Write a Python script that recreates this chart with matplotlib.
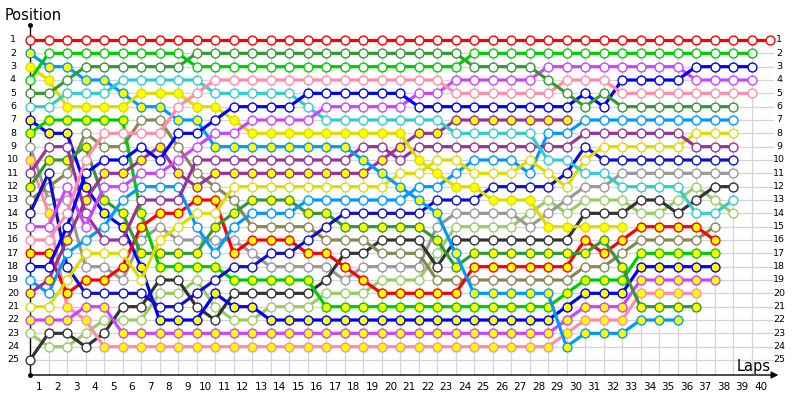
import matplotlib
matplotlib.use("Agg")
import matplotlib.pyplot as plt

# position per lap, list index = lap (0 = grid)
red_w    = [1] * 41
green_w  = [4] + [2] * 8 + [3] * 15 + [2] * 16
dgreen_w = [5, 5, 4] + [3] * 6 + [2] * 15 + [3] * 4 + [4, 5, 6, 5] + [6] * 7
pink_w   = [16, 16, 14, 10, 8, 8, 8, 8, 6, 5] + [4] * 13 + [5] * 6 + [4] * 3 + [5] * 8
blue_w   = [18, 18, 15, 11, 10, 10, 9, 10, 8, 8, 7] + [6] * 4 + [5] * 6 + [6] * 9 + [5, 6] + [4] * 4 + [3] * 4
violet_w = [15, 15, 12, 15, 12, 12, 11, 11, 10, 9, 8, 8] + [7] * 4 + [6] * 5 + [5] * 2 + [4] * 5 + [3] * 8 + [4] * 4
cyan_w   = [6, 6, 5, 5, 5, 4, 4, 4, 4, 4] + [5] * 5 + [6] + [7] * 7 + [8] * 5 + [10, 10, 11, 11] + [12] * 4 + [14, 14, 13]
yel_y    = [3, 4, 6, 6, 6, 6, 5, 5, 5, 6, 6, 7] + [8] * 9 + [10, 11, 12, 12, 13, 13, 13] + [15] * 5
lblue_y  = [2, 3, 3, 4, 4, 5, 6, 6, 7, 7] + [9] * 8 + [10, 11, 12, 13, 14, 17] + [20] * 5 + [24] + [23] * 3 + [22] * 3
green_y  = [8, 7, 7, 7, 7, 7, 14, 18, 18, 18, 18] + [19] * 5 + [21] * 13 + [20] + [19] * 3 + [17] * 5
red_y    = [17, 17, 20, 19, 19, 18, 15, 14, 14, 13, 13, 17, 16, 16, 16, 17, 17, 18, 19] + [20] * 5 + [18] * 6 + [16, 17, 16] + [15] * 4 + [16]
blue_y   = [7, 8, 8, 12, 14, 15, 18, 22, 22, 22, 20, 21, 21] + [22] * 16 + [21] + [20] * 3 + [18] * 5
pink_y   = [10, 14, 21, 22] + [24] * 25 + [23] + [22] * 3 + [20] * 4
violet_y = [22, 22, 22, 21, 21] + [23] * 24 + [22] + [21] * 3 + [19] * 5
black_w  = [25, 23, 23, 24, 23, 21, 21, 19, 19, 21, 22] + [20] * 5 + [19, 17, 17, 16, 16, 16, 18] + [16] * 7 + [14, 14, 14, 13, 13, 14, 13, 12, 12]
lgreen_w = [23, 24, 24, 23, 22, 22, 22, 20, 20, 19, 21, 22, 22, 21, 21, 21, 20, 20, 20, 19, 19, 19, 17,
            15, 15, 15, 15, 14, 13, 14, 13, 13, 13, 14, 14, 13, 12, 13, 14]
olive_w  = [13, 12, 11, 8, 9, 9, 7, 7, 9, 11, 12, 13, 15, 15, 15, 15, 16, 16, 16, 17, 17, 17,
            19, 19, 19, 19, 19, 19, 19, 19, 18, 18, 17, 16, 16, 16, 16, 15]
gray_w   = [9, 13, 13, 18, 18, 19, 16, 15, 16, 16, 16, 16, 17, 18, 18, 18, 18, 19, 18, 18, 18, 18,
            15, 14, 14, 14, 14, 15, 14, 13, 12, 12, 11, 11, 11, 11, 11, 11, 11]
navy_w   = [14, 11, 18, 20, 20, 20, 20, 21, 21, 20, 19, 18, 18, 17, 17, 16, 15, 14, 14, 14, 14, 14,
            13, 13, 13, 12, 12, 12, 12, 11, 9, 10, 10, 10, 10, 10, 10, 10, 10]
dgreen_y = [12, 10, 10, 9, 13, 14, 17, 17, 17, 17, 15, 14, 13, 13, 13, 14, 14, 15, 15, 15, 15, 15,
            16, 18, 17, 17, 17, 17, 17, 17, 17, 16, 18, 21, 21, 21, 21]
purple_w = [11, 9, 9, 14, 16, 16, 13, 13, 13, 10, 10, 10, 10, 10, 10, 10, 10, 10, 9, 9, 10, 9,
            9, 9, 9, 9, 9, 9, 9, 9, 8, 8, 8, 8, 8, 8, 9, 9, 9]
purple_y = [20, 19, 16, 13, 11, 11, 10, 9, 11, 12, 11, 11, 11, 11, 11, 11, 11, 11, 11, 10, 9, 8,
            8, 7, 7, 7, 7, 7, 7, 7]
yel_w    = [21, 21, 19, 17, 17, 17, 19, 16, 15, 14, 14, 12, 12, 12, 12, 12, 12, 12, 12, 12, 11, 11,
            10, 10, 11, 11, 11, 10, 11, 12, 10, 9, 9, 9, 9, 9, 8, 8, 8]
lblue_w  = [19, 20, 17, 16, 15, 13, 12, 12, 12, 15, 17, 15, 14, 14, 14, 13, 13, 13, 13, 13, 13, 12,
            12, 11, 10, 10, 10, 11, 8, 8, 7, 7, 7, 7, 7, 7, 7, 7, 7]

RED, GREEN, DGREEN = "#ff0000", "#00cc00", "#339933"
PINK, BLUE, NAVY = "#ff8ca8", "#0000ff", "#1010c8"
VIOLET, CYAN, YELLOW = "#cc44ff", "#33cccc", "#dddd00"
LBLUE, PURPLE, OLIVE = "#0099ff", "#993399", "#888855"
GRAY, LGREEN, BLACK = "#999999", "#99cc66", "#333333"
WF, YF = "white", "#ffff00"

series = [
    (lgreen_w, LGREEN, WF), (gray_w, GRAY, WF), (black_w, BLACK, WF),
    (olive_w, OLIVE, WF), (pink_y, PINK, YF), (violet_y, VIOLET, YF),
    (blue_y, BLUE, YF), (green_y, GREEN, YF), (red_y, RED, YF),
    (dgreen_y, DGREEN, YF), (navy_w, NAVY, WF), (lblue_w, LBLUE, WF),
    (yel_w, YELLOW, WF), (purple_y, PURPLE, YF), (purple_w, PURPLE, WF),
    (lblue_y, LBLUE, YF), (yel_y, YELLOW, YF), (cyan_w, CYAN, WF),
    (violet_w, VIOLET, WF), (blue_w, BLUE, WF), (pink_w, PINK, WF),
    (dgreen_w, DGREEN, WF), (green_w, GREEN, WF), (red_w, RED, WF),
]

n_pos = 25
n_laps = 40

fig = plt.figure(figsize=(8, 4), dpi=100)
ax = fig.add_axes([30 / 800, 25 / 400, 740 / 800, 350 / 400])
ax.set_xlim(0, n_laps)
ax.set_ylim(26.125, -0.125)
ax.axis("off")

# grid
for p in range(1, n_pos + 1):
    ax.plot([0, n_laps + 0.15], [p, p], color="#d4d4d4", lw=0.9, zorder=0, clip_on=False)
for k in range(1, n_laps + 1):
    ax.plot([k, k], [1, 26.125], color="#d4d4d4", lw=0.9, zorder=0)

# axes lines
ax.plot([0, 0], [-0.125, 26.125], color="black", lw=1.0, zorder=1, clip_on=False)
ax.plot([0], [-0.125], "o", color="black", ms=2.5, clip_on=False)
ax.plot([0], [26.125], "o", color="black", ms=2.5, clip_on=False)
ax.annotate("", xy=(n_laps + 0.45, 26.125), xytext=(0, 26.125),
            arrowprops=dict(arrowstyle="-|>", color="black", lw=1.0,
                            mutation_scale=10, shrinkA=0, shrinkB=0),
            annotation_clip=False)

for data, col, face in series:
    ax.plot(range(len(data)), data, "-o", color=col, lw=2.3, ms=6.4,
            mfc=face, mec=col, mew=1.0, zorder=3, clip_on=False)

# tick labels
for k in range(1, n_laps + 1):
    ax.text(k - 0.5, 26.125 + 0.9, str(k), ha="center", va="center",
            fontsize=7.5, clip_on=False)
for p in range(1, n_pos + 1):
    ax.text(-0.92, p, str(p), ha="center", va="center", fontsize=6.8, clip_on=False)
    ax.text(n_laps + 0.5, p, str(p), ha="center", va="center", fontsize=6.8, clip_on=False)

fig.text(5 / 800, 1 - 15 / 400, "Position", fontsize=10.5, ha="left", va="center")
fig.text(771 / 800, 1 - 366 / 400, "Laps", fontsize=10.5, ha="right", va="center")

fig.savefig("out.png", dpi=100)
